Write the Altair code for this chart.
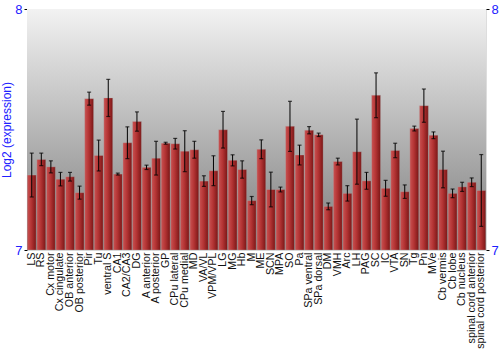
import altair as alt
import pandas as pd

regions = ["LS", "RS", "Cx motor", "Cx cingulate", "OB anterior", "OB posterior", "Pir", "Tu",
           "ventral S", "CA1", "CA2/CA3", "DG", "A anterior", "A posterior", "GP", "CPu lateral",
           "CPu medial", "MD", "VA/VL", "VPM/VPL", "LG", "MG", "Hb", "M", "ME", "SCN", "MPA",
           "SO", "Pa", "SPa ventral", "SPa dorsal", "DM", "VMH", "Arc", "LH", "PAG", "SC", "IC",
           "VTA", "SN", "Tg", "Pn", "MVe", "Cb vermis", "Cb lobe", "Cb nucleus",
           "spinal cord anterior", "spinal cord posterior"]
values = [7.311, 7.376, 7.345, 7.294, 7.304, 7.238, 7.628, 7.392,
          7.631, 7.315, 7.445, 7.533, 7.343, 7.381, 7.443, 7.441,
          7.410, 7.416, 7.286, 7.329, 7.499, 7.372, 7.334, 7.205, 7.418, 7.251, 7.251,
          7.513, 7.394, 7.497, 7.478, 7.181, 7.367, 7.235, 7.408, 7.287, 7.642, 7.256,
          7.413, 7.242, 7.504, 7.599, 7.476, 7.334, 7.235, 7.262,
          7.281, 7.247]
errors = [0.091, 0.026, 0.025, 0.028, 0.018, 0.027, 0.027, 0.064,
          0.077, 0.004, 0.066, 0.040, 0.009, 0.070, 0.004, 0.022,
          0.085, 0.035, 0.022, 0.062, 0.076, 0.023, 0.036, 0.017, 0.039, 0.072, 0.010,
          0.104, 0.041, 0.015, 0.007, 0.014, 0.014, 0.032, 0.135, 0.035, 0.093, 0.033,
          0.030, 0.028, 0.010, 0.069, 0.014, 0.076, 0.018, 0.019,
          0.018, 0.149]

df = pd.DataFrame({"region": regions, "value": values, "err": errors})
df["lo"] = df["value"] - df["err"]
df["hi"] = df["value"] + df["err"]

W, H = 459, 241
BLUE = "#2020ff"
FONT = "Liberation Sans"

xenc = alt.X("region:N", sort=regions, title=None,
             scale=alt.Scale(paddingInner=0.07, paddingOuter=0.03),
             axis=alt.Axis(labelAngle=-90, labelFontSize=10.7, labelColor="#111", labelFont=FONT,
                           ticks=False, domain=False, labelPadding=2, labelLimit=200))
yscale = alt.Scale(domain=[7, 8], nice=False, clamp=True)

bg = alt.Chart(pd.DataFrame({"a": [0]})).mark_rect(
    color=alt.Gradient(gradient="linear",
                       stops=[alt.GradientStop(color="#f2f2f2", offset=0),
                              alt.GradientStop(color="#7c7c7c", offset=1)],
                       x1=0, x2=0, y1=0, y2=1)
).encode(x=alt.value(0), x2=alt.value(W), y=alt.value(0), y2=alt.value(H))

bars = alt.Chart(df).mark_bar(
    color=alt.Gradient(gradient="linear",
                       stops=[alt.GradientStop(color="#c95252", offset=0),
                              alt.GradientStop(color="#b43434", offset=0.45),
                              alt.GradientStop(color="#7a1616", offset=1)],
                       x1=0, x2=1, y1=0, y2=0),
    stroke="#b0b0b0", strokeOpacity=0.4, strokeWidth=0.8
).encode(
    x=xenc,
    y=alt.Y("value:Q", scale=yscale, title="Log2 (expression)",
            axis=alt.Axis(orient="left", values=[7, 8], format="d", labelColor=BLUE,
                          labelFontSize=13, labelFont=FONT, titleColor=BLUE, titleFontSize=12,
                          titleFont=FONT, titleFontWeight="normal", grid=False, domain=False,
                          tickColor="black", tickSize=3, labelPadding=2, titlePadding=1)),
    y2=alt.datum(7),
)

rules = alt.Chart(df).mark_rule(color="black", strokeWidth=1).encode(
    x=alt.X("region:N", sort=regions), y=alt.Y("lo:Q", scale=yscale, axis=None), y2="hi:Q")
cap_lo = alt.Chart(df).mark_tick(color="black", size=4, thickness=1.2).encode(
    x=alt.X("region:N", sort=regions), y=alt.Y("lo:Q", scale=yscale, axis=None))
cap_hi = alt.Chart(df).mark_tick(color="black", size=4, thickness=1.2).encode(
    x=alt.X("region:N", sort=regions), y=alt.Y("hi:Q", scale=yscale, axis=None))

right_axis = alt.Chart(df).mark_rule(opacity=0).encode(
    y=alt.Y("value:Q", scale=yscale, title=None,
            axis=alt.Axis(orient="right", values=[7, 8], format="d", labelColor=BLUE,
                          labelFontSize=13, labelFont=FONT, grid=False, domain=False,
                          tickColor="black", tickSize=3, labelPadding=2)),
    x=alt.value(0), x2=alt.value(1))

chart = alt.layer(bg, bars, rules, cap_lo, cap_hi, right_axis).resolve_axis(
    y="independent"
).properties(
    width=W, height=H,
    autosize=alt.AutoSizeParams(type="none"),
    padding={"left": 27, "top": 9, "right": 14, "bottom": 100},
).configure_view(stroke="#777777", strokeWidth=1).configure(background="white")

chart.save("out.html", embed_options={"renderer": "svg", "actions": False})
